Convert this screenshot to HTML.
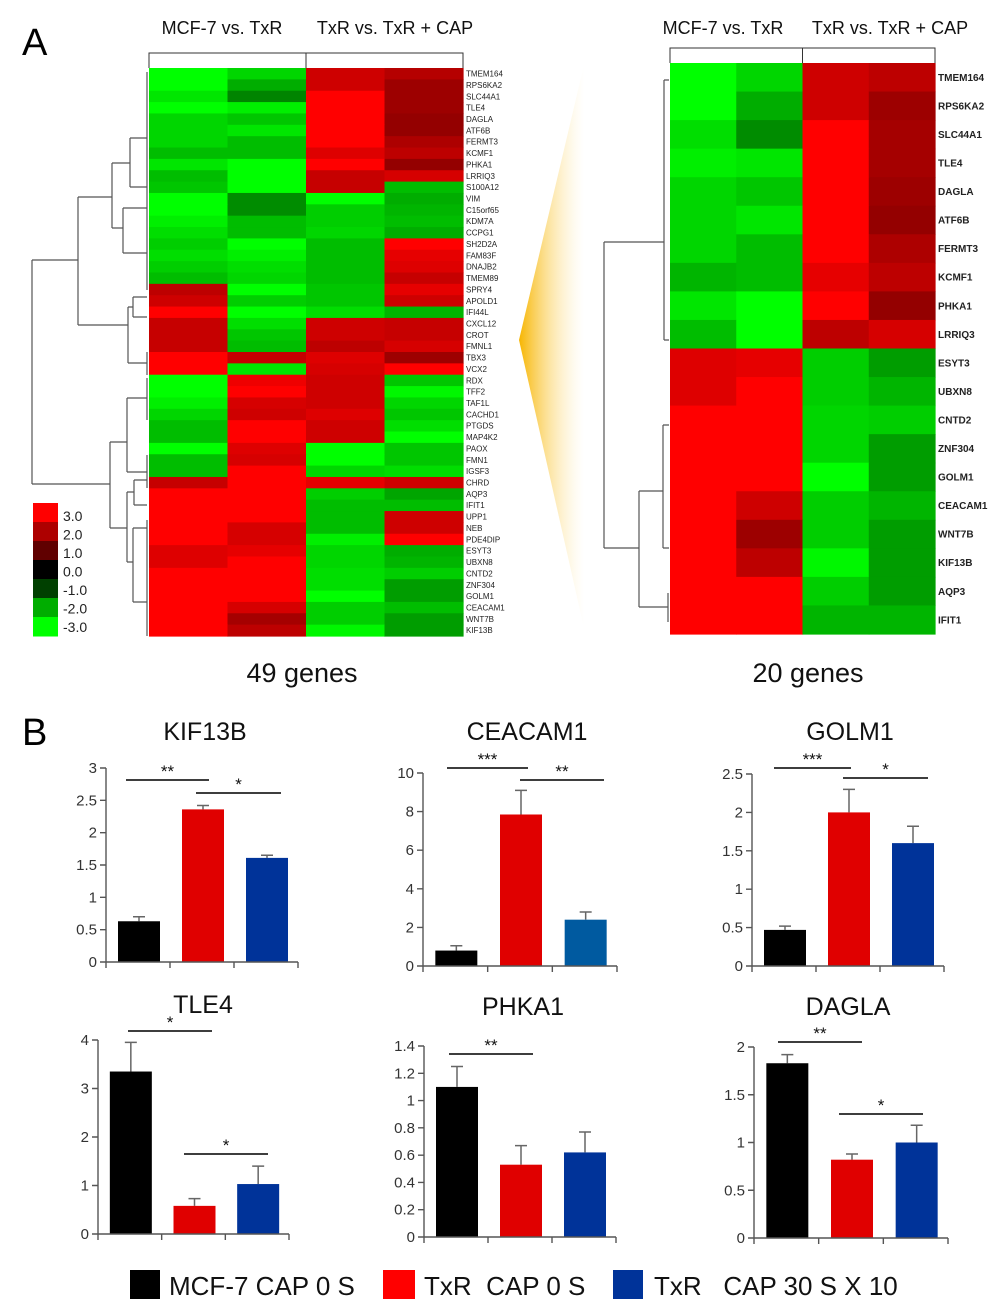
<!DOCTYPE html>
<html><head><meta charset="utf-8"><style>
body{margin:0;background:#fff;}
svg{display:block;font-family:"Liberation Sans",sans-serif;}
</style></head><body>
<svg id="fig" width="1000" height="1310" viewBox="0 0 1000 1310" xmlns="http://www.w3.org/2000/svg">
<defs>
<linearGradient id="wedge" x1="0" x2="1" y1="0" y2="0">
<stop offset="0" stop-color="#f7b500" stop-opacity="1"/>
<stop offset="1" stop-color="#fde9b0" stop-opacity="0"/>
</linearGradient>
</defs>
<text x="22" y="55" font-size="38">A</text>
<text x="22" y="745" font-size="38">B</text>
<polygon points="519,340 584,65 584,628" fill="url(#wedge)"/>
<g id="hm"></g>
<g id="bars"></g>
<g font-size="26" fill="#111">
<rect x="130" y="1270" width="30" height="29" fill="#000"/>
<text x="169" y="1295">MCF-7 CAP 0 S</text>
<rect x="383" y="1270" width="32" height="29" fill="#ff0000"/>
<text x="424" y="1295" xml:space="preserve">TxR  CAP 0 S</text>
<rect x="613" y="1270" width="30" height="29" fill="#003399"/>
<text x="654" y="1295" xml:space="preserve">TxR   CAP 30 S X 10</text>
</g>
</svg>
<script>
const NS='http://www.w3.org/2000/svg';
// ---------- heatmap data ----------
const leftGenes=['TMEM164','RPS6KA2','SLC44A1','TLE4','DAGLA','ATF6B','FERMT3','KCMF1','PHKA1','LRRIQ3','S100A12','VIM','C15orf65','KDM7A','CCPG1','SH2D2A','FAM83F','DNAJB2','TMEM89','SPRY4','APOLD1','IFI44L','CXCL12','CROT','FMNL1','TBX3','VCX2','RDX','TFF2','TAF1L','CACHD1','PTGDS','MAP4K2','PAOX','FMN1','IGSF3','CHRD','AQP3','IFIT1','UPP1','NEB','PDE4DIP','ESYT3','UBXN8','CNTD2','ZNF304','GOLM1','CEACAM1','WNT7B','KIF13B'];
const leftValues=[
[-3,-2.5,2.4,2.1],[-3,-2,2.4,1.8],[-2.7,-1.5,3,1.8],[-3,-2.8,3,1.8],[-2.5,-2.3,3,1.7],
[-2.5,-2.7,3,1.7],[-2.5,-2.2,3,2.0],[-2.2,-2.2,2.6,2.2],[-2.7,-3,3,1.7],[-2.2,-3,2.3,2.5],
[-2.3,-3,2.3,-2.2],[-3,-1.6,-3,-2],[-3,-1.6,-2.4,-2.1],[-2.8,-2.2,-2.4,-2.2],[-2.6,-2.2,-2.5,-2],
[-2.4,-3,-2.2,3],[-2.6,-2.8,-2.2,2.7],[-2.4,-2.6,-2.2,2.6],[-2.2,-2.5,-2.2,2.3],[2.2,-3,-2.3,2.7],
[2.4,-2.4,-2.3,2.4],[3,-3,-2.6,-2.1],[2.3,-2.6,2.4,2.3],[2.3,-2.3,2.4,2.3],[2.3,-2.2,2.2,2.5],
[3,2.3,2.6,1.8],[3,-2.7,2.5,3],[-3,2.8,2.4,-2.3],[-3,3,2.4,-2.9],[-2.8,2.5,2.4,-2.5],
[-2.5,2.4,2.6,-2.3],[-2.2,3,2.4,-2.6],[-2.2,3,2.4,-3],[-3,2.6,-3,-2.3],[-2.2,2.5,-3,-2.3],
[-2.2,3,-2.5,-2.6],[2.3,3,2.7,2.4],[3,3,-2.4,-1.9],[3,3,-2.2,-2.2],[3,3,-2.2,2.4],
[3,2.5,-2.2,2.4],[3,2.5,-2.8,3],[2.6,2.7,-2.5,-2],[2.6,3,-2.5,-2.1],[3,3,-2.6,-2.4],
[3,3,-2.6,-1.8],[3,3,-3,-1.8],[3,2.5,-2.4,-2.2],[3,1.9,-2.4,-1.8],[3,2.2,-2.9,-1.8]];
const rightGenes=['TMEM164','RPS6KA2','SLC44A1','TLE4','DAGLA','ATF6B','FERMT3','KCMF1','PHKA1','LRRIQ3','ESYT3','UBXN8','CNTD2','ZNF304','GOLM1','CEACAM1','WNT7B','KIF13B','AQP3','IFIT1'];
const rightValues=[
[-3,-2.5,2.4,2.2],[-3,-2,2.4,1.8],[-2.6,-1.6,3,1.9],[-2.8,-2.7,3,1.9],[-2.5,-2.3,3,1.8],
[-2.5,-2.7,3,1.7],[-2.5,-2.2,3,2.0],[-2.1,-2.2,2.7,2.2],[-2.7,-3,3,1.7],[-2.2,-3,2.2,2.5],
[2.6,2.7,-2.4,-1.8],[2.6,3,-2.4,-2.1],[3,3,-2.5,-2.4],[3,3,-2.5,-1.8],[3,3,-3,-1.8],
[3,2.4,-2.4,-2.1],[3,1.8,-2.4,-1.8],[3,2.2,-2.9,-1.8],[3,3,-2.4,-1.8],[3,3,-2.1,-2.1]];
const scaleTicks=['3.0','2.0','1.0','0.0','-1.0','-2.0','-3.0'];
const scaleValues=[3,2,1,0,-1,-2,-3];
const groupLabels=['MCF-7 vs. TxR','TxR vs. TxR + CAP'];

function mk(tag,attrs,parent){const e=document.createElementNS(NS,tag);for(const k in attrs)e.setAttribute(k,attrs[k]);(parent||document.getElementById('fig')).appendChild(e);return e;}
function heatColor(v){
  if(v===0)return '#000';
  const a=Math.abs(v);
  if(a<=1)return v>0?'rgb('+Math.round(a*96)+',0,0)':'rgb(0,'+Math.round(a*64)+',0)';
  const c=Math.max(40,Math.min(255,Math.round(255-(3-a)*82)));
  return v>0?'rgb('+c+',0,0)':'rgb(0,'+c+',0)';
}
const hm=document.getElementById('hm');
function drawHeat(cfg,genes,vals){
  const g=mk('g',{},hm);
  
  
  const rh=(cfg.y1-cfg.y0)/genes.length, cw=(cfg.x1-cfg.x0)/4;
  vals.forEach((row,i)=>row.forEach((v,j)=>{
    const r=mk('rect',{x:cfg.x0+j*cw,y:cfg.y0+i*rh,width:cw+0.6,height:rh+0.6,fill:heatColor(v)},g);
    
    
  }));
  genes.forEach((n,i)=>{
    const t=mk('text',{x:cfg.x1+3,y:cfg.y0+(i+0.5)*rh+cfg.fs*0.36,'font-size':cfg.fs,fill:'#222','font-weight':cfg.fw},g);
    t.textContent=n;
    
    
  });
  const mid=(cfg.x0+cfg.x1)/2;
  const hb=mk('path',{d:`M${cfg.x0},${cfg.y0} V${cfg.hy} H${cfg.x1} V${cfg.y0} M${mid},${cfg.hy} V${cfg.y0}`,fill:'none',stroke:'#333','stroke-width':1},g);
  
  
  groupLabels.forEach((l,k)=>{
    const t=mk('text',{x:cfg.lx[k],y:34,'font-size':18,'text-anchor':'middle',fill:'#111'},g);
    t.textContent=l;
    
    
  });
  const d=mk('path',{d:cfg.dendro,fill:'none',stroke:'#555','stroke-width':1.2},g);
  
  
}
drawHeat({name:'heatmap-49-genes',x0:149,x1:463,y0:68,y1:636,hy:53,fs:8,fw:'normal',lx:[222,395],
 dendro:'M32,260 V484 M32,260 H78 M32,484 H110 M78,197 V325 M78,197 H112 M112,163 V228 M112,163 H130 M130,138 V187 M130,138 H147 M130,187 H147 M147,72 V200 M112,228 H123 M123,208 V253 M123,208 H147 M123,253 H147 M147,200 V290 M78,325 H128 M128,307 V363 M128,307 H133 M133,297 V317 M133,297 H147 M133,317 H147 M128,363 H147 M147,352 V375 M110,442 V528 M110,442 H127 M127,398 V472 M127,398 H147 M127,472 H147 M147,378 V420 M147,455 V488 M110,528 H127 M127,492 V562 M127,492 H134 M134,480 V505 M134,480 H147 M134,505 H147 M127,562 H133 M133,528 V602 M133,528 H147 M133,602 H147 M147,520 V636'},leftGenes,leftValues);
drawHeat({name:'heatmap-20-genes',x0:670,x1:935,y0:63,y1:634,hy:48,fs:10,fw:'bold',lx:[723,890],
 dendro:'M604,242 V548 M604,242 H664 M664,80 V340 M664,80 H669 M664,340 H669 M604,548 H639 M639,491 V607 M639,491 H663 M663,425 V548 M663,425 H669 M663,548 H669 M639,607 H668 M668,593 V622'},rightGenes,rightValues);
const sc=mk('g',{},hm);


scaleValues.forEach((v,i)=>{
  const r=mk('rect',{x:33,y:503+i*19,width:25,height:19.5,fill:heatColor(v)},sc);
  
  
  const t=mk('text',{x:63,y:521+i*18.5,'font-size':14,fill:'#222'},sc);
  t.textContent=scaleTicks[i];
  
  
});
[['49 genes',302],['20 genes',808]].forEach(([s,x])=>{
  const t=mk('text',{x:x,y:682,'font-size':27,'text-anchor':'middle',fill:'#111'},hm);
  t.textContent=s;
  
  
});

// ---------- bar chart data ----------
const chartTitles=['KIF13B','CEACAM1','GOLM1','TLE4','PHKA1','DAGLA'];
const kif13bValues=[0.63,2.36,1.61], kif13bErrors=[0.07,0.06,0.04];
const ceacam1Values=[0.8,7.85,2.4], ceacam1Errors=[0.25,1.25,0.4];
const golm1Values=[0.47,2.0,1.6], golm1Errors=[0.05,0.3,0.22];
const tle4Values=[3.35,0.58,1.03], tle4Errors=[0.6,0.15,0.37];
const phka1Values=[1.1,0.53,0.62], phka1Errors=[0.15,0.14,0.15];
const daglaValues=[1.83,0.82,1.0], daglaErrors=[0.09,0.06,0.18];
const kif13bTicks=['0','0.5','1','1.5','2','2.5','3'];
const ceacam1Ticks=['0','2','4','6','8','10'];
const golm1Ticks=['0','0.5','1','1.5','2','2.5'];
const tle4Ticks=['0','1','2','3','4'];
const phka1Ticks=['0','0.2','0.4','0.6','0.8','1','1.2','1.4'];
const daglaTicks=['0','0.5','1','1.5','2'];
const sigMarks=[[['**',0,1],['*',1,2]],[['***',0,1],['**',1,2]],[['***',0,1],['*',1,2]],[['*',0,1],['*',1,2]],[['**',0,1]],[['**',0,1],['*',1,2]]];

const layouts=[
 {ax:106,end:298,y0:962,yt:768,tx:205,ty:740,sig:[[126,209,780],[196,281,793]],blue:'#003399'},
 {ax:423,end:617,y0:966,yt:773,tx:527,ty:740,sig:[[447,528,768],[520,604,780]],blue:'#005aa0'},
 {ax:752,end:944,y0:966,yt:774,tx:850,ty:740,sig:[[774,851,768],[843,928,778]],blue:'#003399'},
 {ax:98,end:289,y0:1234,yt:1040,tx:203,ty:1013,sig:[[128,212,1031],[184,268,1154]],blue:'#003399'},
 {ax:424,end:616,y0:1237,yt:1046,tx:523,ty:1015,sig:[[449,533,1054]],blue:'#003399'},
 {ax:754,end:948,y0:1238,yt:1047,tx:848,ty:1015,sig:[[778,862,1042],[839,923,1114]],blue:'#003399'}];
const allValues=[kif13bValues,ceacam1Values,golm1Values,tle4Values,phka1Values,daglaValues];
const allErrors=[kif13bErrors,ceacam1Errors,golm1Errors,tle4Errors,phka1Errors,daglaErrors];
const allTicks=[kif13bTicks,ceacam1Ticks,golm1Ticks,tle4Ticks,phka1Ticks,daglaTicks];
const barsRoot=document.getElementById('bars');
chartTitles.forEach((title,c)=>{
  const L=layouts[c], vals=allValues[c], errs=allErrors[c], ticks=allTicks[c];
  const ymax=parseFloat(ticks[ticks.length-1]);
  const yS=v=>L.y0-(v/ymax)*(L.y0-L.yt);
  const band=(L.end-L.ax)/3;
  const xC=i=>L.ax+band*(i+0.5)+1;
  const g=mk('g',{},barsRoot);
  
  
  const t=mk('text',{x:L.tx,y:L.ty,'font-size':25,'text-anchor':'middle',fill:'#111'},g);
  t.textContent=title;
  
  
  const colors=['#000000','#e00000',L.blue];
  vals.forEach((v,i)=>{
    const top=yS(v+errs[i]);
    const e=mk('path',{d:`M${xC(i)},${yS(v)} V${top} M${xC(i)-6},${top} H${xC(i)+6}`,stroke:'#666','stroke-width':1.5,fill:'none'},g);
    
    
    const r=mk('rect',{x:xC(i)-21,y:yS(v),width:42,height:L.y0-yS(v),fill:colors[i]},g);
    
    
  });
  let ad=`M${L.ax},${L.yt} V${L.y0} H${L.end} M${L.end},${L.y0} v6`;
  for(let k=0;k<=3;k++)ad+=` M${L.ax+band*k},${L.y0} v6`;
  ticks.forEach((tk,k)=>{const y=yS(parseFloat(tk));ad+=` M${L.ax-6},${y} H${L.ax}`;
    const tt=mk('text',{x:L.ax-9,y:y+5,'font-size':15,'text-anchor':'end',fill:'#333'},g);
    tt.textContent=tk;
    
    });
  const a=mk('path',{d:ad,stroke:'#555','stroke-width':1.4,fill:'none'},g);
  
  
  sigMarks[c].forEach((s,k)=>{
    const p=L.sig[k];
    const l=mk('line',{x1:p[0],x2:p[1],y1:p[2],y2:p[2],stroke:'#222','stroke-width':1.8},g);
    
    
    const st=mk('text',{x:(p[0]+p[1])/2,y:p[2]-3,'font-size':17,'text-anchor':'middle',fill:'#111'},g);
    st.textContent=s[0];
    
    
  });
});
</script>
</body></html>
